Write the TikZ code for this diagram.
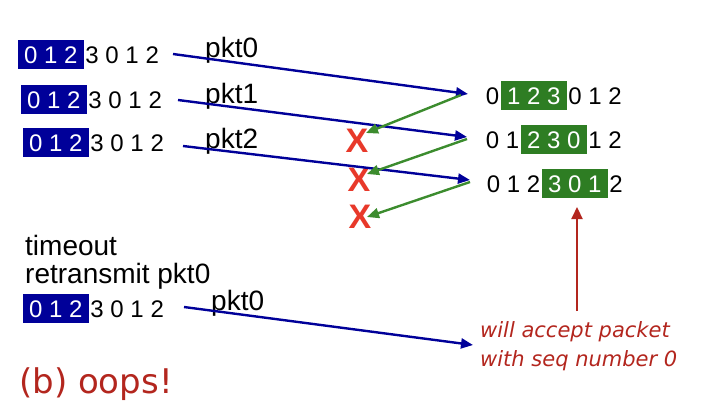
\documentclass[tikz,border=0pt]{standalone}
\usepackage{fontspec}
\setmainfont{Liberation Sans}
\newfontfamily\dvs{DejaVu Sans}
\usetikzlibrary{arrows.meta}
\definecolor{nblue}{HTML}{000099}
\definecolor{ngreen}{HTML}{2E7D23}
\definecolor{lgreen}{HTML}{3C8C2E}
\definecolor{xred}{HTML}{E8392A}
\definecolor{dred}{HTML}{B3261E}
\tikzset{
  digits/.style={font=\fontsize{24}{28}\selectfont, text height=17pt, text depth=0pt, inner ysep=6pt},
  hlblue/.style={digits, fill=nblue, text=white, inner xsep=6pt, anchor=base west},
  hlgreen/.style={digits, fill=ngreen, text=white, inner xsep=6pt, anchor=base west},
  after/.style={digits, inner xsep=1.5pt, anchor=base west},
  before/.style={digits, inner xsep=1.5pt, anchor=base east},
  lbl/.style={font=\fontsize{28}{32}\selectfont, inner sep=0pt, anchor=base west},
  xmark/.style={font=\fontsize{34}{36}\selectfont\bfseries, text=xred, inner sep=0pt},
  bluearr/.style={draw=nblue, line width=2.4pt, -{Triangle[length=12pt,width=10pt]}},
  greenarr/.style={draw=lgreen, line width=2.4pt, -{Triangle[length=12pt,width=10pt]}},
  redarr/.style={draw=dred, line width=2.2pt, -{Triangle[length=12pt,width=11pt]}},
  note/.style={font=\dvs\itshape\fontsize{21}{29}\selectfont, text=dred, inner sep=0pt, anchor=base west}
}
\begin{document}
\begin{tikzpicture}[x=1pt,y=-1pt]
\useasboundingbox (0,0) rectangle (708,418);
% sender rows
\node[hlblue] (b0) at (18,63) {0 1 2};
\node[after] (a0) at (b0.base east) {3 0 1 2};
\node[hlblue] (b1) at (21,108) {0 1 2};
\node[after] (a1) at (b1.base east) {3 0 1 2};
\node[hlblue] (b2) at (23,151) {0 1 2};
\node[after] (a2) at (b2.base east) {3 0 1 2};
\node[hlblue] (b3) at (23,317) {0 1 2};
\node[after] (a3) at (b3.base east) {3 0 1 2};
% labels
\node[lbl] (p0) at (205,57) {pkt0};
\node[lbl] (p1) at (205,103) {pkt1};
\node[lbl] (p2) at (205,148) {pkt2};
\node[lbl] (p3) at (211,310) {pkt0};
\node[lbl] (t1) at (25,255) {timeout};
\node[lbl] (t2) at (25,283) {retransmit pkt0};
% receiver rows
\node[hlgreen] (g0) at (501,104) {1 2 3};
\node[before] (g0l) at (g0.base west) {0};
\node[after] (g0r) at (g0.base east) {0 1 2};
\node[hlgreen] (g1) at (521,148) {2 3 0};
\node[before] (g1l) at (g1.base west) {0 1};
\node[after] (g1r) at (g1.base east) {1 2};
\node[hlgreen] (g2) at (542,192) {3 0 1};
\node[before] (g2l) at (g2.base west) {0 1 2};
\node[after] (g2r) at (g2.base east) {2};
% X marks
\node[xmark] (x0) at (357,141) {X};
\node[xmark] (x1) at (359,180) {X};
\node[xmark] (x2) at (360,217) {X};
% coordinates
\coordinate (s0) at (173,54);
\coordinate (s1) at (178,100);
\coordinate (s2) at (183,146);
\coordinate (s3) at (184,307);
\coordinate (e0) at (468,94);
\coordinate (e1) at (467,137);
\coordinate (e2) at (470,180);
\coordinate (e3) at (473,345);
\coordinate (k0) at (461,95);
\coordinate (k1) at (467,139);
\coordinate (k2) at (470,182);
\coordinate (m0) at (366,133);
\coordinate (m1) at (367,174);
\coordinate (m2) at (367,217);
\coordinate (ra) at (577,311);
\coordinate (rb) at (577,207);
% arrows
\draw[bluearr] (s0) -- (e0);
\draw[bluearr] (s1) -- (e1);
\draw[bluearr] (s2) -- (e2);
\draw[bluearr] (s3) -- (e3);
\draw[greenarr] (k0) -- (m0);
\draw[greenarr] (k1) -- (m1);
\draw[greenarr] (k2) -- (m2);
\draw[redarr] (ra) -- (rb);
% notes
\node[note] (n1) at (480,337) {will accept packet};
\node[note] (n2) at (480,366) {with seq number 0};
\node[font=\dvs\fontsize{34}{38}\selectfont, text=dred, inner sep=0pt, anchor=base west] (oops) at (19,393) {(b) oops!};
\end{tikzpicture}
\end{document}
